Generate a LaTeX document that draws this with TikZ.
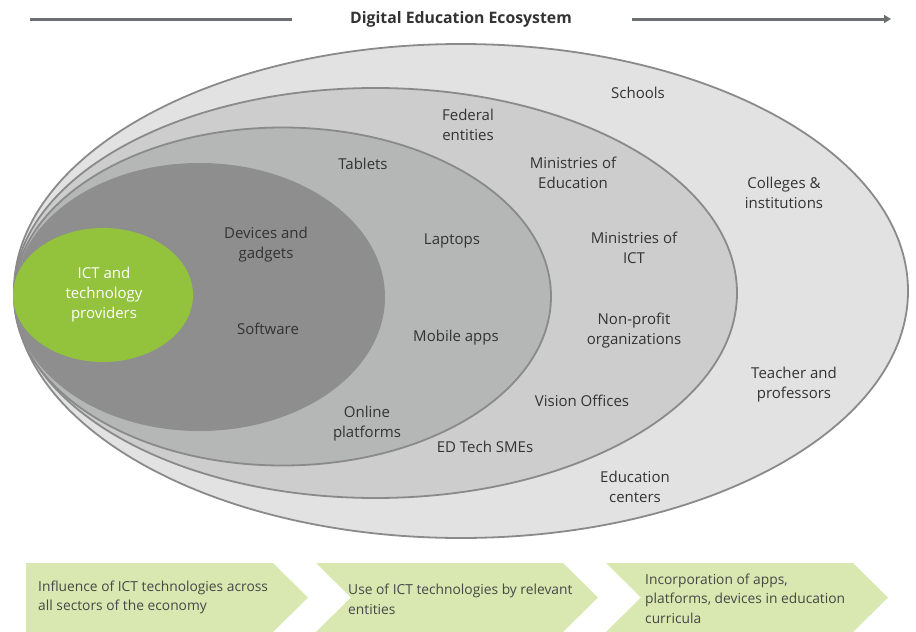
\documentclass[tikz,border=0pt]{standalone}
\usepackage{fontspec}
\setmainfont{Open Sans}
\usetikzlibrary{arrows.meta}

\definecolor{ringA}{HTML}{E2E2E2}
\definecolor{ringB}{HTML}{CDCDCD}
\definecolor{ringC}{HTML}{B5B6B6}
\definecolor{ringD}{HTML}{8E8E8E}
\definecolor{ringline}{HTML}{8A8A8A}
\definecolor{ictgreen}{HTML}{93C23D}
\definecolor{chevgreen}{HTML}{D9E8B1}
\definecolor{txtgray}{HTML}{333333}
\definecolor{headgray}{HTML}{6D6E71}

\tikzset{
  lbl/.style={align=center, text=txtgray, inner sep=0pt,
    font=\fontsize{15}{20}\selectfont},
  ring/.style={draw=ringline, line width=1.8pt},
  header/.style={draw=headgray, line width=3pt},
  chevtxt/.style={align=left, anchor=west, text=txtgray!90, inner sep=0pt,
    font=\fontsize{13.8}{19.5}\selectfont}
}

\begin{document}
\begin{tikzpicture}[x=1pt,y=-1pt]
  \useasboundingbox (0,0) rectangle (916,632);

  % title and arrow
  \node[text=txtgray, font=\bfseries\fontsize{15.8}{18}\selectfont] (title) at (461,19) {Digital Education Ecosystem};
  \coordinate (hl1) at (30,19);
  \coordinate (hl2) at (292,19);
  \coordinate (hr1) at (632,19);
  \coordinate (hr2) at (891,19);
  \draw[header] (hl1) -- (hl2);
  \draw[header, -{Triangle[length=7pt,width=8pt]}] (hr1) -- (hr2);

  % rings
  \draw[ring, fill=ringA] (461,291) ellipse [x radius=447, y radius=247];
  \draw[ring, fill=ringB] (375.5,293) ellipse [x radius=361.5, y radius=205];
  \draw[ring, fill=ringC] (282.5,296.5) ellipse [x radius=268.5, y radius=169];
  \fill[ringD] (199.5,297) ellipse [x radius=185.5, y radius=134];
  \fill[ictgreen] (103,295) ellipse [x radius=90, y radius=67];

  % labels
  \node[lbl, text=white] (ict) at (104,295) {ICT and\\technology\\providers};
  \node[lbl] (devices) at (266,245) {Devices and\\gadgets};
  \node[lbl] (software) at (268,329) {Software};
  \node[lbl] (tablets) at (363,164) {Tablets};
  \node[lbl] (laptops) at (452,241) {Laptops};
  \node[lbl] (mobile) at (456,338) {Mobile apps};
  \node[lbl] (online) at (367,424) {Online\\platforms};
  \node[lbl] (federal) at (468,125) {Federal\\entities};
  \node[lbl] (minedu) at (573,173) {Ministries of\\Education};
  \node[lbl] (minict) at (634,248) {Ministries of\\ICT};
  \node[lbl] (nonprofit) at (634,331) {Non-profit\\organizations};
  \node[lbl] (vision) at (582,401) {Vision Offices};
  \node[lbl] (edtech) at (485,447) {ED Tech SMEs};
  \node[lbl] (schools) at (638,93) {Schools};
  \node[lbl] (colleges) at (784,193) {Colleges \&\\institutions};
  \node[lbl] (teacher) at (794,385) {Teacher and\\professors};
  \node[lbl] (centers) at (635,487) {Education\\centers};

  % chevrons
  \foreach \x/\d in {26/0,316/35,606/35}
    \fill[chevgreen] (\x,563) -- ++(247,0) -- ++(35,34.5) -- ++(-35,34.5)
      -- ++(-247,0) -- ++(\d,-34.5) -- cycle;

  \node[chevtxt] (step1) at (38,597.5) {Influence of ICT technologies across\\all sectors of the economy};
  \node[chevtxt] (step2) at (348,599.5) {Use of ICT technologies by relevant\\entities};
  \node[chevtxt] (step3) at (645,598.5) {Incorporation of apps,\\platforms, devices in education\\curricula};
\end{tikzpicture}
\end{document}
